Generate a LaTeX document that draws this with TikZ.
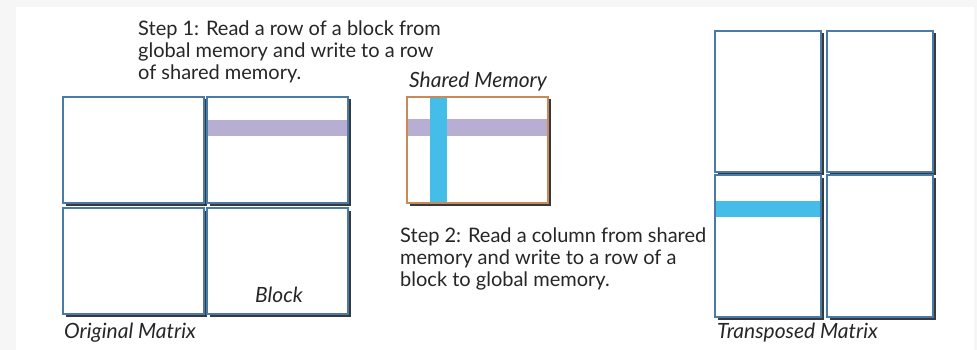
\documentclass[tikz,border=0pt]{standalone}
\usepackage{fontspec}
\setmainfont{Lato}
\usetikzlibrary{shadows}
\definecolor{bordblue}{HTML}{4A7AA6}
\definecolor{bordorange}{HTML}{C98A55}
\definecolor{shadowc}{HTML}{353A40}
\definecolor{purp}{HTML}{B8AED4}
\definecolor{cyanbar}{HTML}{44BDE8}
\definecolor{bggray}{HTML}{F6F6F6}
\begin{document}
\begin{tikzpicture}[x=1pt,y=-1pt,
  blk/.style={draw=bordblue, line width=1.4pt, fill=white, inner sep=0pt, outer sep=0pt, anchor=north west,
    drop shadow={shadow xshift=2.5pt, shadow yshift=-2.5pt, fill=shadowc, opacity=1}},
  smem/.style={blk, draw=bordorange},
  stepText/.style={font=\fontsize{20}{22}\selectfont, align=left, inner sep=0pt, anchor=north west, text=black!85},
  lbl/.style={font=\fontsize{21}{22}\selectfont\itshape, inner sep=0pt, anchor=base west, text=black!85}]
\useasboundingbox (0,0) rectangle (977,350);
\fill[bggray] (0,0) rectangle (977,350);
\fill[white] (16,7) rectangle (974,350);
% Original matrix
\node[blk, minimum width=141pt, minimum height=106pt] (o11) at (63,97) {};
\node[blk, minimum width=141pt, minimum height=106pt] (o12) at (207,97) {};
\node[blk, minimum width=141pt, minimum height=106pt] (o21) at (63,208) {};
\node[blk, minimum width=141pt, minimum height=106pt] (o22) at (207,208) {};
\fill[purp] ([xshift=0.8pt,yshift=-23pt]o12.north west) rectangle ([xshift=-0.8pt,yshift=-39pt]o12.north east);
% Shared memory
\node[smem, minimum width=141pt, minimum height=106pt] (sm) at (407,97) {};
\fill[purp] ([xshift=0.8pt,yshift=-22pt]sm.north west) rectangle ([xshift=-0.8pt,yshift=-39pt]sm.north east);
\fill[cyanbar] ([xshift=23pt,yshift=-0.8pt]sm.north west) rectangle ([xshift=40pt,yshift=0.8pt]sm.south west);
% Transposed matrix
\node[blk, minimum width=106pt, minimum height=141pt] (t11) at (715,31) {};
\node[blk, minimum width=106pt, minimum height=141pt] (t12) at (827,31) {};
\node[blk, minimum width=106pt, minimum height=142pt] (t21) at (715,175) {};
\node[blk, minimum width=106pt, minimum height=142pt] (t22) at (827,175) {};
\fill[cyanbar] ([xshift=0.8pt,yshift=-26pt]t21.north west) rectangle ([xshift=-0.8pt,yshift=-42pt]t21.north east);
% Texts
\node[stepText] (s1) at (138,20.5) {Step 1: Read a row of a block from\\global memory and write to a row\\of shared memory.};
\node[stepText] (s2) at (400,228) {Step 2: Read a column from shared\\memory and write to a row of a\\block to global memory.};
\node[lbl] (smlbl) at (409,88) {Shared Memory};
\node[lbl] (blklbl) at (255,302) {Block};
\node[lbl] (omlbl) at (64,338) {Original Matrix};
\node[lbl] (tmlbl) at (717,338) {Transposed Matrix};
\end{tikzpicture}
\end{document}
